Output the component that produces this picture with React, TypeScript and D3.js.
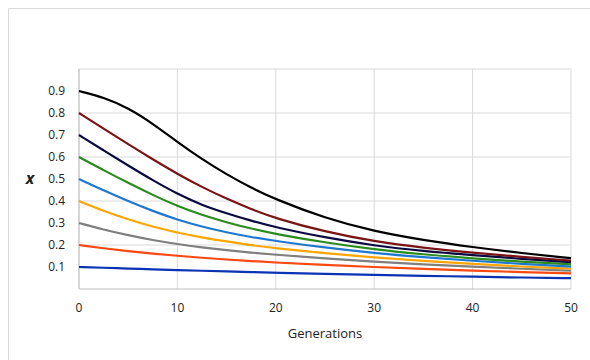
import React from "react";
import * as d3 from "d3";

const generations = [0, 2.5, 5, 7.5, 10, 12.5, 15, 17.5, 20, 25, 30, 35, 40, 45, 50];

const s09 = [0.9, 0.871, 0.823, 0.752, 0.668, 0.59, 0.521, 0.46, 0.407, 0.322, 0.262, 0.222, 0.19, 0.163, 0.14];
const s08 = [0.8, 0.729, 0.658, 0.589, 0.523, 0.463, 0.41, 0.363, 0.321, 0.26, 0.216, 0.187, 0.165, 0.146, 0.129];
const s07 = [0.7, 0.63, 0.561, 0.494, 0.432, 0.381, 0.344, 0.31, 0.28, 0.234, 0.197, 0.172, 0.154, 0.137, 0.122];
const s06 = [0.6, 0.54, 0.482, 0.427, 0.377, 0.336, 0.303, 0.274, 0.25, 0.211, 0.18, 0.157, 0.139, 0.124, 0.112];
const s05 = [0.5, 0.448, 0.399, 0.354, 0.315, 0.283, 0.257, 0.236, 0.218, 0.188, 0.163, 0.144, 0.128, 0.114, 0.102];
const s04 = [0.4, 0.355, 0.316, 0.283, 0.256, 0.234, 0.216, 0.199, 0.185, 0.162, 0.143, 0.127, 0.114, 0.102, 0.092];
const s03 = [0.3, 0.27, 0.244, 0.222, 0.204, 0.189, 0.176, 0.165, 0.156, 0.139, 0.124, 0.112, 0.101, 0.092, 0.083];
const s02 = [0.2, 0.185, 0.172, 0.161, 0.151, 0.142, 0.134, 0.127, 0.12, 0.109, 0.1, 0.091, 0.083, 0.077, 0.071];
const s01 = [0.1, 0.0965, 0.093, 0.0895, 0.086, 0.083, 0.08, 0.077, 0.074, 0.069, 0.064, 0.06, 0.056, 0.052, 0.049];

const seriesList = [s01, s02, s03, s04, s05, s06, s07, s08, s09];
const seriesColors = ["#0a32b4", "#ff4810", "#7f7f7f", "#ffa500", "#1e78d2", "#2a8c1e", "#0a0a40", "#781414", "#000000"];

const xTicks = [0, 10, 20, 30, 40, 50];
const yTickLabels = [0.1, 0.2, 0.3, 0.4, 0.5, 0.6, 0.7, 0.8, 0.9];
const yGrid = [0.2, 0.4, 0.6, 0.8, 1.0];

export default function App() {
  const W = 590, H = 360;
  const left = 79, right = 571, top = 69, bottom = 289;
  const x = d3.scaleLinear().domain([0, 50]).range([left, right]);
  const y = d3.scaleLinear().domain([0, 1]).range([bottom, top]);
  const line = d3
    .line<number>()
    .x((_, i) => x(generations[i]))
    .y((d) => y(d))
    .curve(d3.curveBasis);
  const font = "Open Sans, Liberation Sans, sans-serif";
  return (
    <svg width={W} height={H} style={{ position: "absolute", left: 0, top: 0, background: "#fff" }}>
      <rect x={0} y={0} width={W} height={H} fill="#fff" />
      <line x1={8.5} y1={8.5} x2={W} y2={8.5} stroke="#d9d9d9" strokeWidth={1} />
      <line x1={8.5} y1={8.5} x2={8.5} y2={H} stroke="#d9d9d9" strokeWidth={1} />
      {yGrid.map((v) => (
        <line key={"gy" + v} x1={left} x2={right} y1={y(v)} y2={y(v)} stroke="#d9d9d9" strokeWidth={1} />
      ))}
      {xTicks.map((v) => (
        <line key={"gx" + v} x1={x(v)} x2={x(v)} y1={top} y2={bottom} stroke="#d9d9d9" strokeWidth={1} />
      ))}
      <line x1={left} x2={right} y1={bottom} y2={bottom} stroke="#bfbfbf" strokeWidth={1} />
      <line x1={left} x2={left} y1={top} y2={bottom} stroke="#bfbfbf" strokeWidth={1} />
      {seriesList.map((s, i) => (
        <path key={"s" + i} d={line(s) || ""} fill="none" stroke={seriesColors[i]} strokeWidth={2.2} />
      ))}
      {yTickLabels.map((v) => (
        <text key={"yl" + v} x={65} y={y(v)} dy="0.35em" textAnchor="end" fontFamily={font} fontSize={12} fill="#222">
          {v.toFixed(1)}
        </text>
      ))}
      {xTicks.map((v) => (
        <text key={"xl" + v} x={x(v)} y={312} textAnchor="middle" fontFamily={font} fontSize={12} fill="#222">
          {v}
        </text>
      ))}
      <text x={(left + right) / 2} y={338} textAnchor="middle" fontFamily={font} fontSize={13} fill="#222">
        Generations
      </text>
      <text x={30} y={184} textAnchor="middle" fontFamily={font} fontSize={16} fontStyle="italic" fontWeight="bold" fill="#222">
        x
      </text>
    </svg>
  );
}
